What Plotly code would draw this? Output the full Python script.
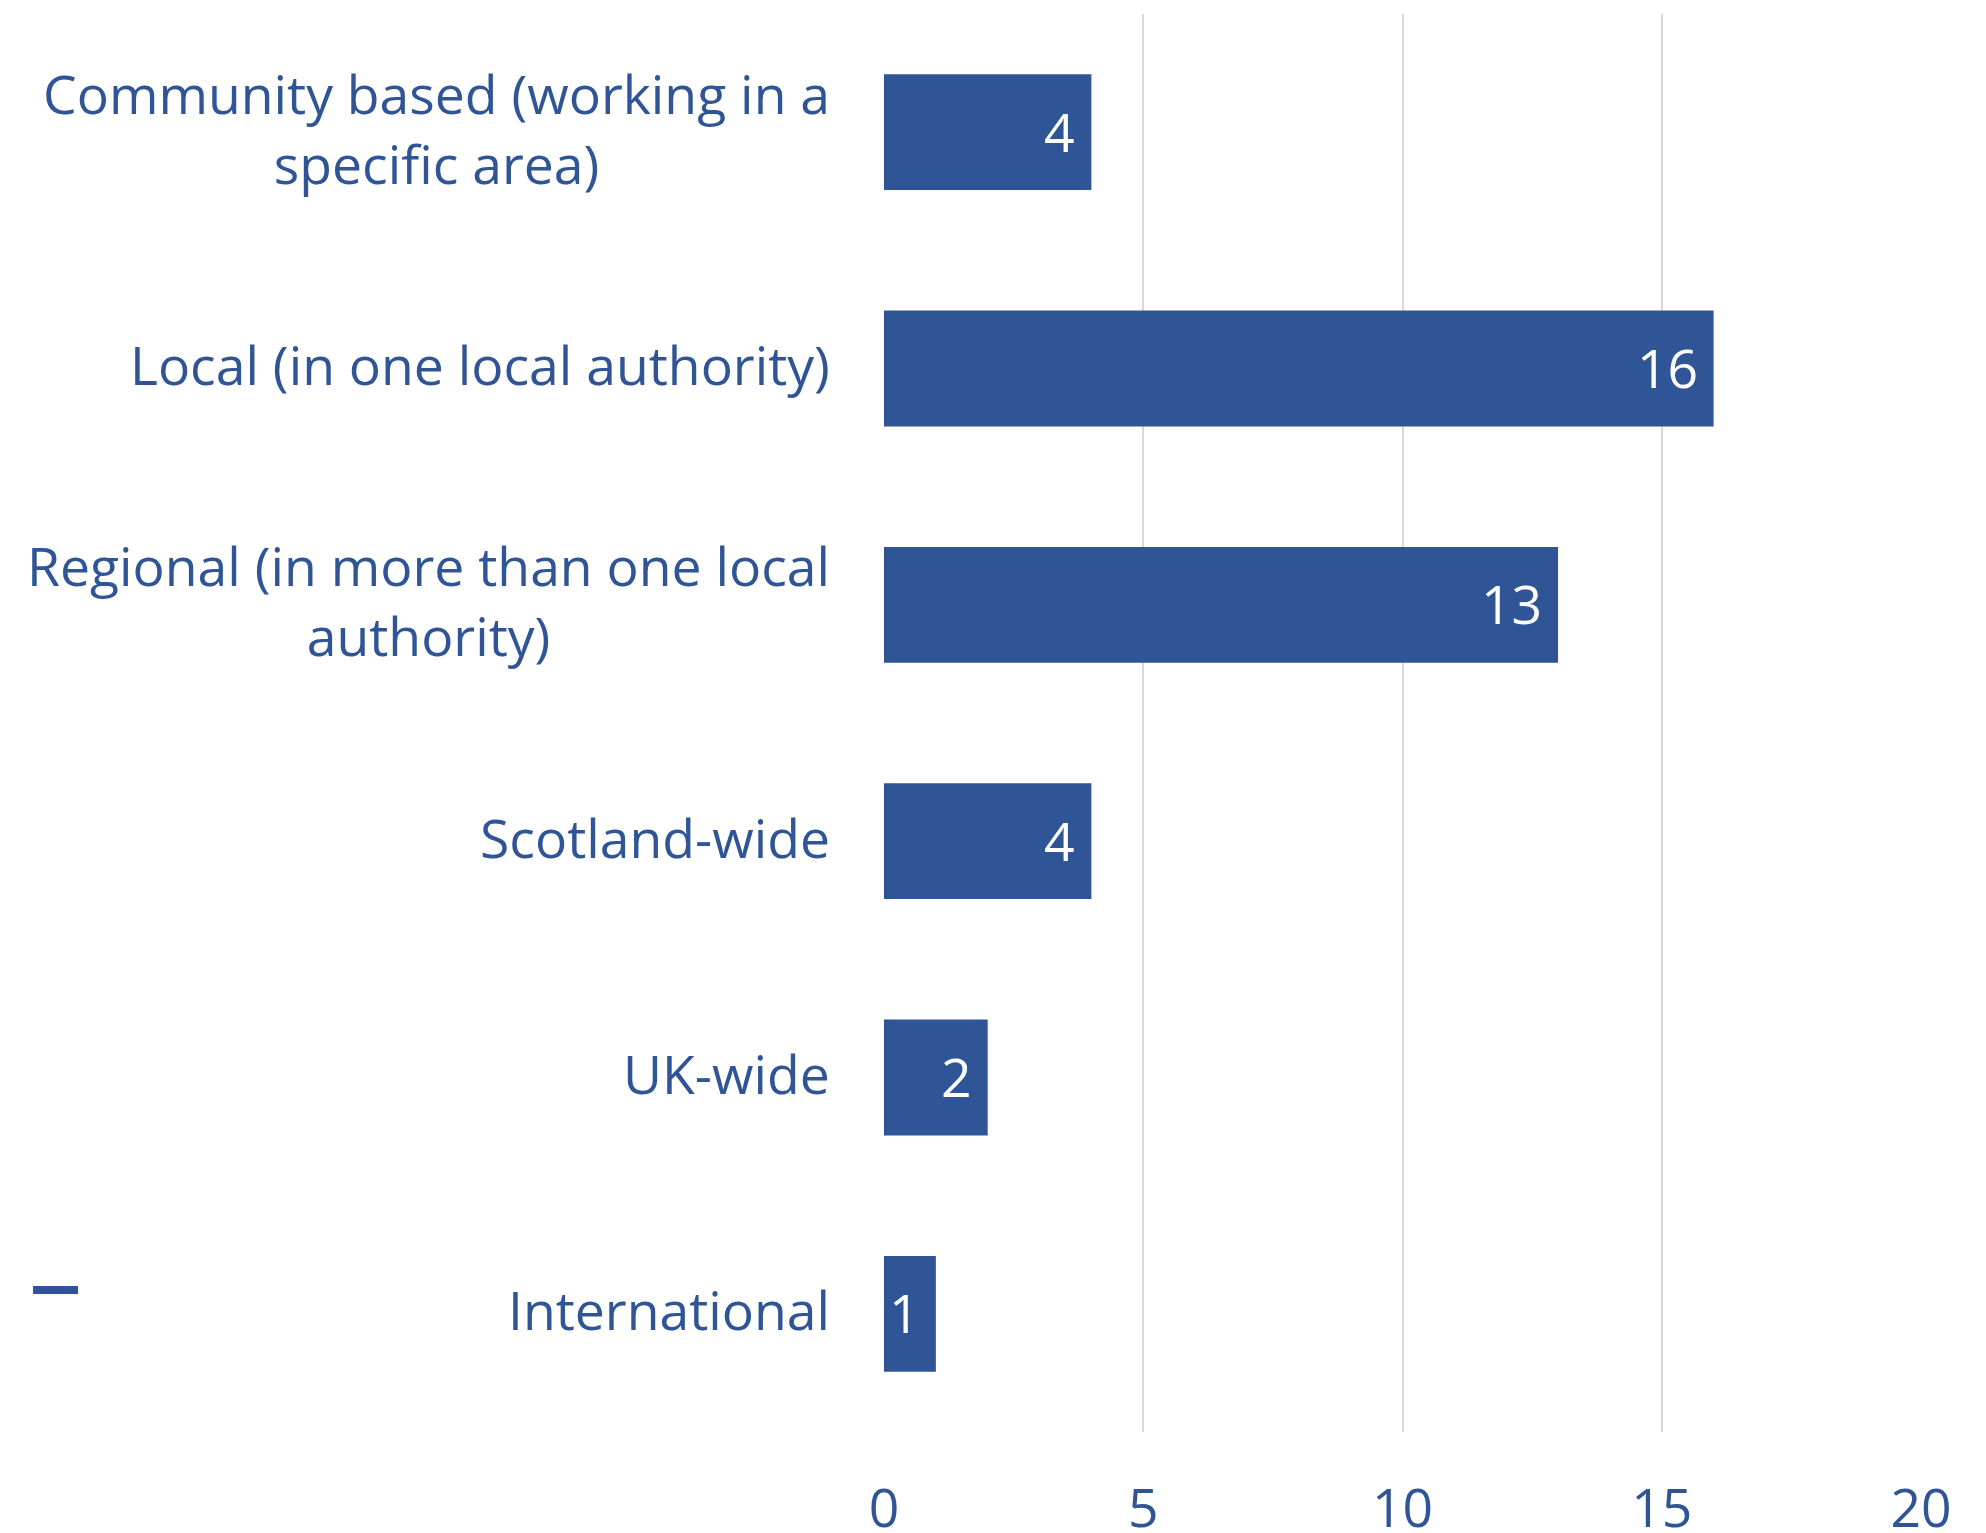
import plotly.graph_objects as go

categories = [
    "Community based (working in a<br>specific area)",
    "Local (in one local authority)",
    "Regional (in more than one local<br>authority)",
    "Scotland-wide",
    "UK-wide",
    "International",
]
counts = [4, 16, 13, 4, 2, 1]
x_ticks = [0, 5, 10, 15, 20]

BLUE = "#2F5597"
FONT = "Open Sans"
SIZE = 53.5

fig = go.Figure()
fig.add_trace(go.Bar(
    y=categories,
    x=counts,
    orientation="h",
    marker=dict(color=BLUE, line=dict(width=0)),
    showlegend=False,
))

# Value labels just inside the end of each bar
for cat, val in zip(categories, counts):
    fig.add_annotation(
        x=val, xref="x", y=cat, yref="y",
        text=str(val), showarrow=False,
        xanchor="right", yanchor="middle",
        xshift=-14, yshift=1,
        font=dict(family=FONT, size=SIZE, color="white"),
    )

# Category labels, centred line by line and right-aligned against the axis
for cat in categories:
    fig.add_annotation(
        x=0, xref="paper", y=cat, yref="y",
        text=cat, showarrow=False,
        xanchor="right", yanchor="middle", align="center",
        xshift=-52, yshift=4,
        font=dict(family=FONT, size=SIZE, color=BLUE),
    )

# Legend key for the single unnamed series
fig.add_shape(type="rect", xref="paper", yref="paper",
              x0=-0.8206, x1=-0.7772, y0=0.1030, y1=0.0973,
              fillcolor=BLUE, line=dict(width=0))

fig.update_layout(
    width=1986, height=1533,
    margin=dict(l=884, r=65, t=14, b=101, autoexpand=False),
    paper_bgcolor="white", plot_bgcolor="white",
    bargap=0.51,
    font=dict(family=FONT, size=SIZE, color=BLUE),
    xaxis=dict(
        range=[0, 20], tickvals=x_ticks, ticktext=[str(t) for t in x_ticks],
        showgrid=True, gridcolor="#D9D9D9", gridwidth=2,
        zeroline=False, showline=False, ticks="",
        tickfont=dict(family=FONT, size=SIZE, color=BLUE),
        ticklabelstandoff=40, automargin=False,
    ),
    yaxis=dict(
        categoryorder="array", categoryarray=categories,
        autorange="reversed",
        showticklabels=False, showgrid=False, zeroline=False, ticks="",
        automargin=False,
    ),
)

fig.write_html("out.html")
